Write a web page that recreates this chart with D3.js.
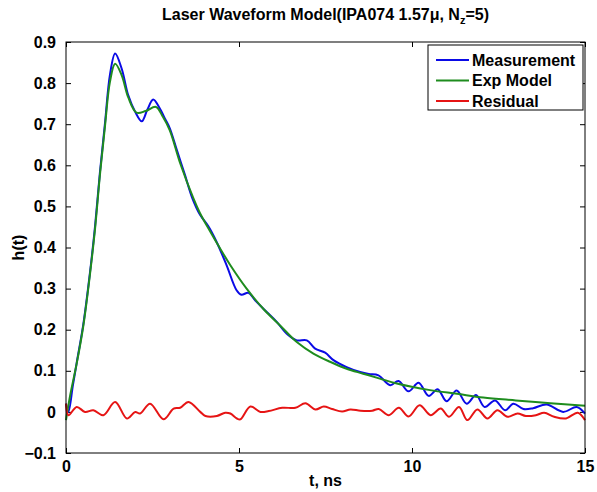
<!DOCTYPE html>
<html>
<head>
<meta charset="utf-8">
<script src="https://d3js.org/d3.v7.min.js"></script>
<style>
  body { margin: 0; background: #fff; }
  text { font-family: "Liberation Sans", Arial, Helvetica, sans-serif; font-weight: bold; fill: #000; }
</style>
</head>
<body>
<div id="my_dataviz"></div>
<script>

// measured waveform h(t), [t in ns, h]
var measurement = [
  [0,0.02],[0.07,0.0],[0.2,0.065],[0.31,0.12],[0.5,0.213],[0.69,0.337],[0.84,0.452],[0.98,0.582],
  [1.13,0.705],[1.27,0.82],[1.42,0.872],[1.61,0.835],[1.8,0.77],[2.0,0.73],[2.19,0.707],
  [2.35,0.735],[2.52,0.76],[2.7,0.74],[2.87,0.712],[3.0,0.69],[3.2,0.638],[3.44,0.576],
  [3.65,0.52],[3.87,0.48],[4.11,0.452],[4.35,0.414],[4.64,0.357],[4.93,0.296],[5.07,0.285],
  [5.27,0.29],[5.46,0.272],[5.8,0.243],[6.09,0.219],[6.38,0.19],[6.67,0.174],[6.96,0.174],
  [7.2,0.154],[7.49,0.144],[7.73,0.126],[8.11,0.109],[8.5,0.097],[8.75,0.092],[9.03,0.089],
  [9.37,0.065],[9.61,0.075],[9.9,0.05],[10.19,0.071],[10.48,0.039],[10.74,0.055],[11.0,0.026],
  [11.29,0.052],[11.58,0.02],[11.85,0.041],[12.1,0.012],[12.4,0.028],[12.69,0.004],[12.93,0.02],
  [13.22,0.007],[13.5,0.009],[13.89,0.018],[14.37,0.0],[14.76,0.012],[15,-0.004]
];

// exponential model fit
var expModel = [
  [0,-0.02],[0.12,0.04],[0.31,0.118],[0.5,0.209],[0.69,0.333],[0.84,0.446],[0.98,0.576],
  [1.13,0.698],[1.27,0.803],[1.42,0.847],[1.61,0.819],[1.8,0.765],[2.04,0.728],[2.3,0.732],
  [2.6,0.742],[2.8,0.718],[3.0,0.685],[3.3,0.605],[3.68,0.52],[3.87,0.484],[4.16,0.44],
  [4.45,0.398],[4.75,0.357],[5.22,0.3],[5.7,0.251],[6.18,0.211],[6.67,0.17],[7.15,0.142],
  [7.63,0.122],[8.11,0.105],[8.59,0.093],[9.07,0.081],[9.56,0.069],[10.52,0.053],[11.3,0.044],
  [12.06,0.035],[13,0.028],[14,0.021],[15,0.015]
];

// residual
var residual = [
  [0,0.02],[0.07,-0.008],[0.31,0.012],[0.55,0],[0.79,0.004],[1.08,-0.008],[1.42,0.024],
  [1.76,-0.016],[2.0,0],[2.14,-0.004],[2.43,0.02],[2.82,-0.018],[3.11,0.008],[3.3,0.01],
  [3.54,0.024],[3.88,0],[4.03,-0.01],[4.36,-0.01],[4.6,-0.002],[4.75,-0.004],[4.94,-0.016],
  [5.04,-0.018],[5.33,0.013],[5.62,0],[5.86,0.002],[6.25,0.01],[6.63,0.01],[6.92,0.021],
  [7.21,0.006],[7.45,0.013],[7.69,0.007],[7.98,0.001],[8.22,0.006],[8.51,0.003],[8.85,0.003],
  [9.04,0.007],[9.33,-0.008],[9.62,0.01],[9.9,-0.011],[10.22,0.016],[10.54,-0.008],[10.83,0.008],
  [11.07,-0.012],[11.36,0.012],[11.6,-0.02],[11.89,0.006],[12.18,-0.016],[12.47,0.004],
  [12.76,-0.012],[13.05,-0.004],[13.29,-0.01],[13.58,-0.008],[13.82,-0.002],[14.11,-0.012],
  [14.45,-0.016],[14.79,-0.002],[15,-0.02]
];

var xTicks = [0, 5, 10, 15];
var yTicks = [-0.1, 0, 0.1, 0.2, 0.3, 0.4, 0.5, 0.6, 0.7, 0.8, 0.9];
var seriesNames = ["Measurement", "Exp Model", "Residual"];
var seriesColors = ["#0a0ae6", "#1e8c1e", "#e61414"];

// set the dimensions and margins of the graph
var margin = {top: 42, right: 12, bottom: 39, left: 66},
    width = 597 - margin.left - margin.right,
    height = 492 - margin.top - margin.bottom;

var svg = d3.select("#my_dataviz")
  .append("svg")
    .attr("width", 597)
    .attr("height", 492)
  .append("g")
    .attr("transform", "translate(" + margin.left + "," + margin.top + ")");

var x = d3.scaleLinear().domain([0, 15]).range([0, width]);
var y = d3.scaleLinear().domain([-0.1, 0.9]).range([height, 0]);

// axes, matlab style: ticks inside on all four sides
var tickLen = 5;
svg.append("g")
  .attr("transform", "translate(0," + height + ")")
  .call(d3.axisBottom(x).tickValues(xTicks).tickSizeInner(-tickLen).tickSizeOuter(0).tickPadding(8).tickFormat(d3.format("d")))
  .call(function(g) { g.select(".domain").remove(); });
svg.append("g")
  .call(d3.axisTop(x).tickValues(xTicks).tickSizeInner(-tickLen).tickSizeOuter(0).tickFormat(""))
  .call(function(g) { g.select(".domain").remove(); });
svg.append("g")
  .call(d3.axisLeft(y).tickValues(yTicks).tickSizeInner(-tickLen).tickSizeOuter(0).tickPadding(10)
        .tickFormat(function(d) { return d === 0 ? "0" : d3.format(".1f")(d); }))
  .call(function(g) { g.select(".domain").remove(); });
svg.append("g")
  .attr("transform", "translate(" + width + ",0)")
  .call(d3.axisRight(y).tickValues(yTicks).tickSizeInner(-tickLen).tickSizeOuter(0).tickFormat(""))
  .call(function(g) { g.select(".domain").remove(); });

svg.selectAll(".tick line").attr("stroke", "#000");
svg.selectAll(".tick text")
  .style("font-size", "16px")
  .style("font-family", "'Liberation Sans', Arial, sans-serif")
  .style("font-weight", "bold");

// the curves
var line = d3.line()
  .x(function(d) { return x(d[0]); })
  .y(function(d) { return y(d[1]); })
  .curve(d3.curveCatmullRom.alpha(0.5));

var allSeries = [measurement, expModel, residual];
allSeries.forEach(function(s, i) {
  svg.append("path")
    .datum(s)
    .attr("fill", "none")
    .attr("stroke", seriesColors[i])
    .attr("stroke-width", 2)
    .attr("stroke-linejoin", "round")
    .attr("d", line);
});

// box
svg.append("rect")
  .attr("width", width)
  .attr("height", height)
  .attr("fill", "none")
  .attr("stroke", "#000")
  .attr("stroke-width", 1);

// legend
var legend = svg.append("g")
  .attr("transform", "translate(" + (width - 157) + ",3)");
legend.append("rect")
  .attr("width", 155)
  .attr("height", 65)
  .attr("fill", "#fff")
  .attr("stroke", "#000")
  .attr("stroke-width", 1);
seriesNames.forEach(function(name, i) {
  var ly = 15 + i * 20.5;
  legend.append("line")
    .attr("x1", 8).attr("x2", 41)
    .attr("y1", ly).attr("y2", ly)
    .attr("stroke", seriesColors[i])
    .attr("stroke-width", 2);
  legend.append("text")
    .attr("x", 44)
    .attr("y", ly + 5.5)
    .style("font-size", "16px")
    .text(name);
});

// title
var title = svg.append("text")
  .attr("x", width / 2)
  .attr("y", -22)
  .attr("text-anchor", "middle")
  .style("font-size", "16px");
title.append("tspan").text("Laser Waveform Model(IPA074 1.57\u03bc, N");
title.append("tspan").attr("dy", 4).style("font-size", "11px").text("z");
title.append("tspan").attr("dy", -4).text("=5)");

// x axis label
svg.append("text")
  .attr("x", width / 2)
  .attr("y", height + 33)
  .attr("text-anchor", "middle")
  .style("font-size", "16px")
  .text("t, ns");

// y axis label
svg.append("text")
  .attr("transform", "rotate(-90)")
  .attr("x", -height / 2 + 0)
  .attr("y", -42)
  .attr("text-anchor", "middle")
  .style("font-size", "16px")
  .text("h(t)");

</script>
</body>
</html>
